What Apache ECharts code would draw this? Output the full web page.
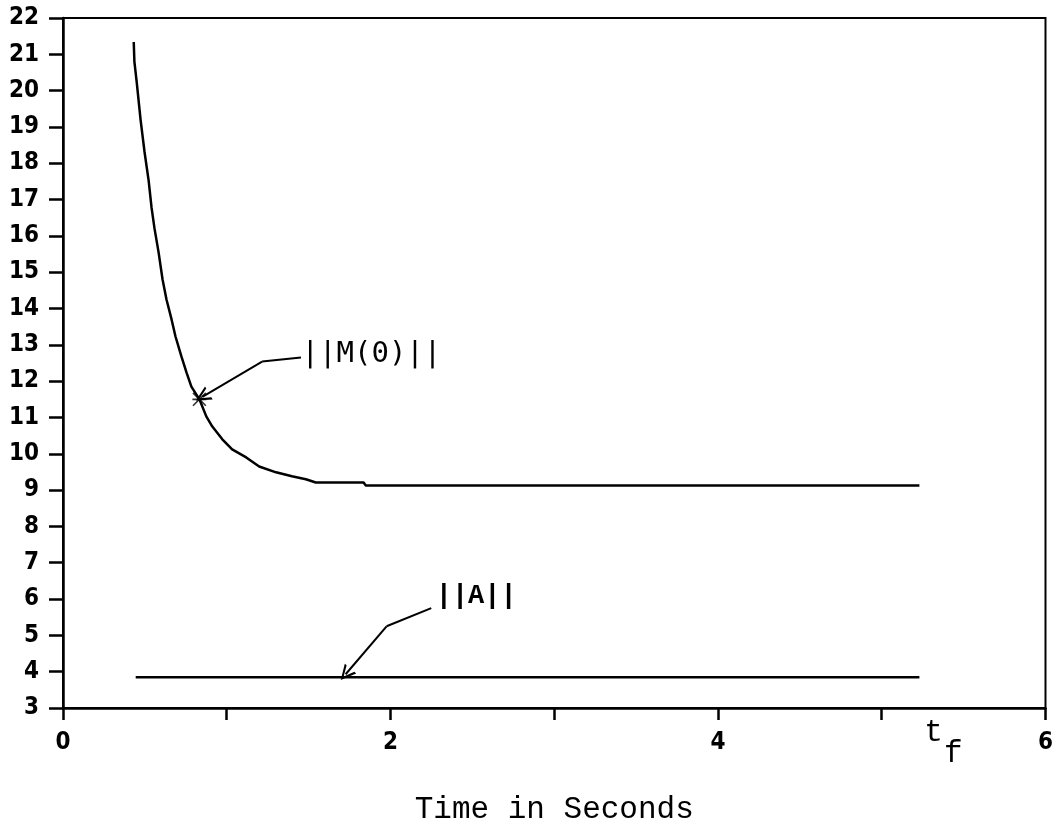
<!DOCTYPE html>
<html>
<head>
<meta charset="utf-8">
<title>Time in Seconds</title>
<script src="https://cdn.jsdelivr.net/npm/echarts@6/dist/echarts.min.js"></script>
<style>
  html, body { margin: 0; padding: 0; background: #ffffff; }
  #chart { width: 1056px; height: 830px; }
</style>
</head>
<body>
<div id="chart"></div>
<script>
// ||M(0)|| as a function of final time (seconds)
const timeM = [0.432, 0.436, 0.450, 0.474, 0.498, 0.523, 0.541, 0.559, 0.584, 0.608,
               0.632, 0.663, 0.687, 0.723, 0.754, 0.784, 0.833, 0.875, 0.912, 0.973,
               1.033, 1.119, 1.198, 1.301, 1.398, 1.483, 1.544, 1.836, 1.848, 5.23];
const normM = [21.34, 20.80, 20.24, 19.19, 18.31, 17.52, 16.77, 16.20, 15.54, 14.80,
               14.25, 13.70, 13.23, 12.68, 12.24, 11.85, 11.50, 11.03, 10.75, 10.40,
               10.12, 9.90, 9.65, 9.49, 9.38, 9.30, 9.21, 9.21, 9.13, 9.13];

// ||A|| is constant over the same range
const timeA = [0.444, 5.23];
const normA = [3.85, 3.85];

// highlighted point on the ||M(0)|| curve
const markedPoint = [0.833, 11.50];

// annotation leaders (data coordinates): start, bend, arrow tip
const leaderM = [[1.453, 12.65], [1.216, 12.54], [0.851, 11.57]];
const leaderA = [[2.249, 5.75], [1.976, 5.25], [1.726, 3.93]];
const labelM = { text: '||M(0)||', at: [1.457, 12.74] };
const labelA = { text: '||A||', at: [2.276, 6.08] };
const labelTf = { main: 't', sub: 'f', at: [5.26, 2.31], subAt: [5.38, 1.74] };

const xLabelsShown = [0, 2, 4, 6];
const axisFont = "'Liberation Sans Narrow', 'DejaVu Sans Condensed', 'Liberation Sans', sans-serif";

const openArrow = 'path://M5,0 L10,10 L8.4,10 L5,3 L1.6,10 L0,10 Z';
const asterisk = 'path://M0,4.4 L10,4.4 L10,5.6 L0,5.6 Z M0.8,0 L10,9.2 L9.2,10 L0,0.8 Z M9.2,0 L10,0.8 L0.8,10 L0,9.2 Z';

const zip = (xs, ys) => xs.map((x, i) => [x, ys[i]]);

const chart = echarts.init(document.getElementById('chart'));

chart.setOption({
  animation: false,
  backgroundColor: '#ffffff',
  grid: {
    left: 63, right: 6, top: 18, bottom: 121,
    show: true, borderColor: '#000', borderWidth: 2, backgroundColor: 'transparent'
  },
  xAxis: {
    type: 'value', min: 0, max: 6, interval: 1,
    name: 'Time in Seconds',
    nameLocation: 'middle', nameGap: 86,
    nameTextStyle: { fontFamily: "'Liberation Mono', 'DejaVu Sans Mono', monospace", fontSize: 31, color: '#000' },
    axisLine: { show: true, lineStyle: { color: '#000', width: 2.5 } },
    axisTick: { show: true, inside: false, length: 12, lineStyle: { color: '#000', width: 2.5 } },
    axisLabel: {
      margin: 23, color: '#000', fontSize: 24, fontWeight: 'bold', fontFamily: axisFont,
      formatter: v => (xLabelsShown.indexOf(v) >= 0 ? String(v) : '')
    },
    splitLine: { show: false }
  },
  yAxis: {
    type: 'value', min: 3, max: 22, interval: 1,
    axisLine: { show: true, lineStyle: { color: '#000', width: 2.5 } },
    axisTick: { show: true, inside: false, length: 14, lineStyle: { color: '#000', width: 2.5 } },
    axisLabel: { margin: 24, color: '#000', fontSize: 24, fontWeight: 'bold', fontFamily: axisFont },
    splitLine: { show: false }
  },
  series: [
    {
      name: '||M(0)||', type: 'line', data: zip(timeM, normM),
      showSymbol: false, smooth: false,
      lineStyle: { color: '#000', width: 2.5 }
    },
    {
      name: '||A||', type: 'line', data: zip(timeA, normA),
      showSymbol: false,
      lineStyle: { color: '#000', width: 2.5 }
    },
    {
      type: 'scatter', data: [markedPoint],
      symbol: asterisk, symbolSize: 14,
      itemStyle: { color: '#000' }
    },
    {
      // leader segments from each label to its bend
      type: 'lines', coordinateSystem: 'cartesian2d',
      data: [{ coords: [leaderM[0], leaderM[1]] }, { coords: [leaderA[0], leaderA[1]] }],
      symbol: ['none', 'none'],
      lineStyle: { color: '#000', width: 2, opacity: 1, curveness: 0 }
    },
    {
      // final leader segments ending in an arrowhead
      type: 'lines', coordinateSystem: 'cartesian2d',
      data: [{ coords: [leaderM[1], leaderM[2]] }, { coords: [leaderA[1], leaderA[2]] }],
      symbol: ['none', openArrow], symbolSize: [13, 15],
      lineStyle: { color: '#000', width: 2, opacity: 1, curveness: 0 }
    }
  ]
});

// Place the text annotations at their data positions
function placeLabels() {
  const px = p => chart.convertToPixel({ gridIndex: 0 }, p);
  const pm = px(labelM.at), pa = px(labelA.at), pt = px(labelTf.at), ps = px(labelTf.subAt);
  chart.setOption({
    graphic: [
      { type: 'text', x: pm[0], y: pm[1],
        style: { text: labelM.text, fill: '#000', fontSize: 29, textVerticalAlign: 'middle', textAlign: 'left',
                 fontFamily: "'DejaVu Sans Mono', monospace" } },
      { type: 'text', x: pa[0], y: pa[1],
        style: { text: labelA.text, fill: '#000', fontSize: 27, fontWeight: 'bold', textVerticalAlign: 'middle', textAlign: 'left',
                 fontFamily: "'Liberation Mono', monospace" } },
      { type: 'text', x: pt[0], y: pt[1],
        style: { text: labelTf.main, fill: '#000', fontSize: 31, textVerticalAlign: 'middle', textAlign: 'left',
                 fontFamily: "'Liberation Mono', monospace" } },
      { type: 'text', x: ps[0], y: ps[1],
        style: { text: labelTf.sub, fill: '#000', fontSize: 31, textVerticalAlign: 'middle', textAlign: 'left',
                 fontFamily: "'Liberation Mono', monospace" } }
    ]
  });
}
placeLabels();
</script>
</body>
</html>
